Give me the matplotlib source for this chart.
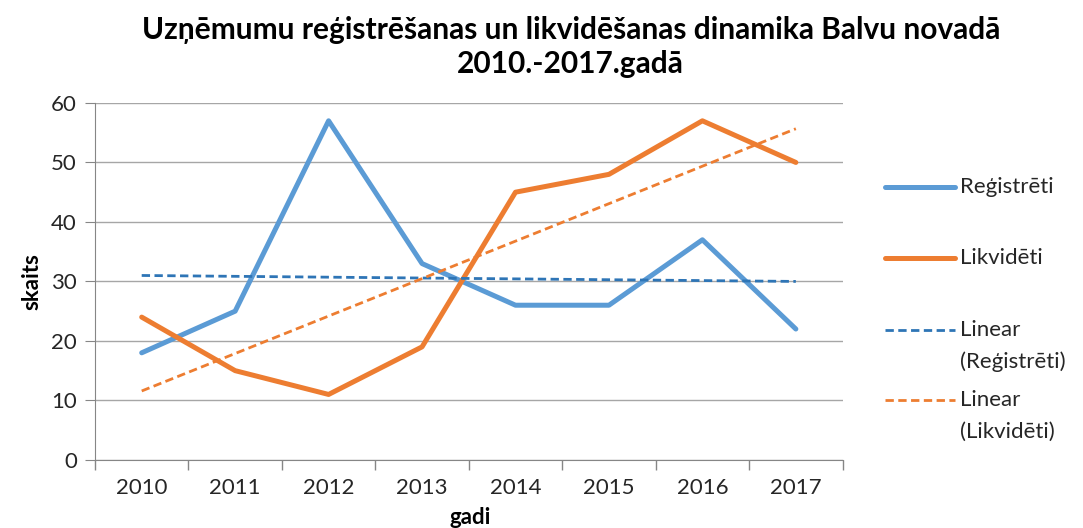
import numpy as np
import matplotlib.pyplot as plt
from matplotlib.lines import Line2D

# dati
gadi = ['2010', '2011', '2012', '2013', '2014', '2015', '2016', '2017']
registreti = [18, 25, 57, 33, 26, 26, 37, 22]
likvideti = [24, 15, 11, 19, 45, 48, 57, 50]

plt.rcParams['font.family'] = ['Lato', 'DejaVu Sans']

W, H = 1083, 528
fig = plt.figure(figsize=(W / 100, H / 100), dpi=100)
ax = fig.add_axes([0.0877, 0.129, 0.6903, 0.676])

x = np.arange(len(gadi))

zils = '#5B9BD5'
oranzs = '#ED7D31'
zils_tr = '#2E75B6'
dash = (0, (3, 1.6))

ax.plot(x, registreti, color=zils, lw=3.6, solid_capstyle='round')
ax.plot(x, likvideti, color=oranzs, lw=3.6, solid_capstyle='round')

# lineārās tendences līnijas
k1 = np.polyfit(x, registreti, 1)
k2 = np.polyfit(x, likvideti, 1)
ax.plot(x, np.polyval(k1, x), color=zils_tr, lw=2, ls=dash)
ax.plot(x, np.polyval(k2, x), color=oranzs, lw=2, ls=dash)

ax.set_xlim(-0.5, 7.5)
ax.set_ylim(0, 60)
ax.set_yticks(range(0, 61, 10))
ax.set_xticks(x)
ax.set_xticklabels(gadi)
ax.set_xticks(np.arange(-0.5, 8, 1), minor=True)
ax.tick_params(axis='x', which='major', length=0, labelsize=16, pad=13, labelcolor='#262626')
ax.tick_params(axis='x', which='minor', length=7, color='#868686', width=1)
ax.tick_params(axis='y', length=7, color='#868686', labelsize=16, pad=6, labelcolor='#262626')

ax.grid(axis='y', color='#A6A6A6', lw=1)
ax.set_axisbelow(True)
for s in ['top', 'right']:
    ax.spines[s].set_visible(False)
ax.spines['left'].set_color('#868686')
ax.spines['bottom'].set_color('#868686')

ax.set_ylabel('skaits', fontsize=16, fontweight='bold', labelpad=6)
fig.text(0.434, 0.0, 'gadi', fontsize=16, fontweight='bold', ha='center', va='bottom')

fig.text(0.527, 1 - 47 / H, 'Uzņēmumu reģistrēšanas un likvidēšanas dinamika Balvu novadā\n2010.-2017.gadā',
         fontsize=21.5, fontweight='bold', ha='center', va='center', linespacing=1.22)

# leģenda (kā Excel: līnija pret pirmo teksta rindu)
leg = [
    ('Reģistrēti', zils, '-', 3.6, 187),
    ('Likvidēti', oranzs, '-', 3.6, 258),
    ('Linear\n(Reģistrēti)', zils_tr, dash, 2, 330),
    ('Linear\n(Likvidēti)', oranzs, dash, 2, 400),
]
for nos, kr, st, lw, yy in leg:
    fy = 1 - yy / H
    fig.add_artist(Line2D([885 / W, 955 / W], [fy, fy], color=kr, ls=st, lw=lw,
                          solid_capstyle='round', transform=fig.transFigure))
    for i, rinda in enumerate(nos.split('\n')):
        fig.text(960 / W, 1 - (yy + 32 * i) / H, rinda, fontsize=16, color='#262626',
                 ha='left', va='center')

fig.savefig('out.png', dpi=100)
